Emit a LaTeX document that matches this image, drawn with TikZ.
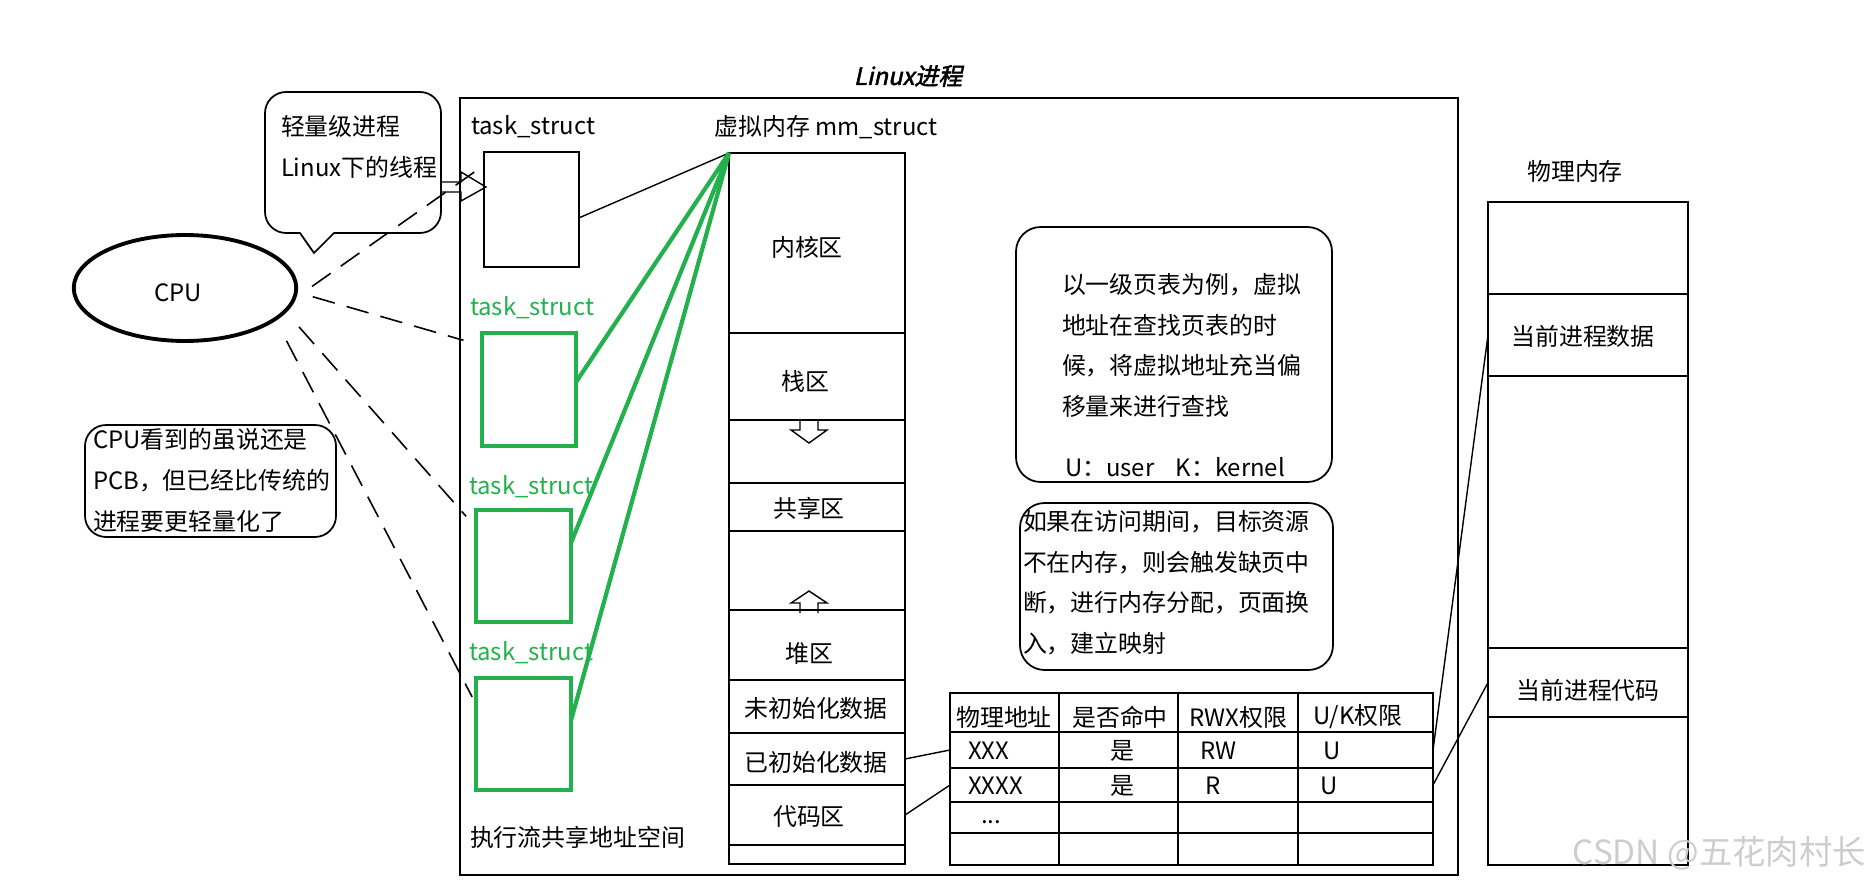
\documentclass[tikz,border=0pt]{standalone}
\usepackage{fontspec}
\setmainfont{Noto Sans CJK SC}
\newfontfamily\titlefont[FakeSlant=0.22,FakeBold=2]{Noto Sans CJK SC}
\usetikzlibrary{shapes.geometric, positioning, fit}
\definecolor{tsgreen}{RGB}{34,177,76}
\definecolor{markgray}{RGB}{205,205,205}

\begin{document}
\begin{tikzpicture}[
		x=0.02cm, y=-0.02cm,
		% police de base pour toutes les étiquettes
		every node/.style={font=\fontsize{13.6}{23.3}\selectfont, inner sep=0pt, outer sep=0pt},
		% cadres noirs simples
		frame/.style={draw, line width=1pt},
		% cadres verts des task_struct
		gframe/.style={draw=tsgreen, line width=2.4pt},
		% bulles arrondies
		note/.style={draw, line width=1pt, rounded corners=#1},
		note/.default=12pt,
		notetext/.style={align=left, anchor=north west},
		gtext/.style={text=tsgreen, anchor=west},
		cpuline/.style={line width=0.9pt, dash pattern=on 13pt off 7pt},
		memline/.style={line width=0.8pt},
		gline/.style={draw=tsgreen, line width=2.4pt},
		hollow/.style={line width=0.8pt, line join=miter}
		]
		\useasboundingbox (0,0) rectangle (1872,888);
		
		% --- PROCESSUS ---
		\node[frame, fit={(460,98)(1458,875)}] (proc) {};
		\node[font={\titlefont\fontsize{13.6}{16}\selectfont}] (title) at (908,76) {Linux进程};
		
		% --- CPU ---
		\node[draw, ellipse, line width=2.2pt, minimum width=4.45cm, minimum height=2.12cm,
			label={[shift={(-7,5)}]center:CPU}] (cpu) at (185,288) {};
		
		% --- TASK_STRUCT ---
		\node[anchor=west] (lbl0) at (471,127) {task\_struct};
		\node[frame, fit={(484,152)(579,267)}] (ts0) {};
		\node[gtext] (lbl1) at (470,308) {task\_struct};
		\node[gframe, fit={(482,333)(576,446)}] (ts1) {};
		\node[gtext] (lbl2) at (469,487) {task\_struct};
		\node[gframe, fit={(476,510)(571,622)}] (ts2) {};
		\node[gtext] (lbl3) at (469,653) {task\_struct};
		\node[gframe, fit={(476,678)(571,790)}] (ts3) {};
		\node[anchor=west] (share) at (470,837) {执行流共享地址空间};
		
		% --- MÉMOIRE VIRTUELLE ---
		\node (mmlbl) at (826,127) {虚拟内存 mm\_struct};
		\node[frame, fit={(729,153)(905,333)}, label={[shift={(-10,4)}]center:内核区}] (kern) {};
		\node[frame, fit={(729,333)(905,420)}, label={[shift={(-12,5)}]center:栈区}] (stack) {};
		\node[frame, fit={(729,420)(905,483)}] (free1) {};
		\node[frame, fit={(729,483)(905,531)}, label={[shift={(-8,1)}]center:共享区}] (shared) {};
		\node[frame, fit={(729,531)(905,610)}] (free2) {};
		\node[frame, fit={(729,610)(905,680)}, label={[shift={(-8,8)}]center:堆区}] (heap) {};
		\node[frame, fit={(729,680)(905,733)}, label={[shift={(-1,2)}]center:未初始化数据}] (bss) {};
		\node[frame, fit={(729,733)(905,785)}, label={[shift={(-1,3)}]center:已初始化数据}] (data) {};
		\node[frame, fit={(729,785)(905,845)}, label={[shift={(-8,2)}]center:代码区}] (code) {};
		\node[frame, fit={(729,845)(905,864)}] (rest) {};
		% flèches de croissance pile / tas
		\draw[hollow] (800,419) -- (800,430) -- (791,430) -- (809,443) -- (827,430) -- (818,430) -- (818,419);
		\draw[hollow] (800,613) -- (800,603) -- (791,603) -- (809,591) -- (827,603) -- (818,603) -- (818,613);
		
		% --- BULLES ---
		\draw[line width=1pt] (300,233) [sharp corners] -- (314,253) -- (334,233) [rounded corners=12pt] -- (441,233) -- (441,92) -- (265,92) -- (265,233) [sharp corners] -- cycle;
		\node[notetext] (bub1) at (281,115) {轻量级进程\\Linux下的线程};
		\draw[hollow] (441,182) -- (461,182) -- (461,172) -- (486,187) -- (461,201) -- (461,192) -- (441,192);
		
		\node[note=14pt, fit={(1016,227)(1332,482)}] (pt) {};
		\node[notetext] (pttext) at (1062,273) {以一级页表为例，虚拟\\地址在查找页表的时\\候，将虚拟地址充当偏\\移量来进行查找};
		\node[anchor=west] (uk) at (1065,467) {U：user\hspace{0.9em}K：kernel};
		
		\node[note=14pt, fit={(1020,503)(1333,670)}] (fault) {};
		\node[notetext] (faulttext) at (1023,510) {如果在访问期间，目标资源\\不在内存，则会触发缺页中\\断，进行内存分配，页面换\\入，建立映射};
		
		\node[note=12pt, fit={(85,425)(336,537)}] (pcb) {};
		\node[notetext] (pcbtext) at (93,428) {CPU看到的虽说还是\\PCB，但已经比传统的\\进程要更轻量化了};
		
		% --- TABLE DES PAGES ---
		\node[frame, fit={(950,693)(1433,732)}] (hdr) {};
		\node[frame, fit={(950,732)(1433,768)}] (row1) {};
		\node[frame, fit={(950,768)(1433,802)}] (row2) {};
		\node[frame, fit={(950,802)(1433,833)}] (row3) {};
		\node[frame, fit={(950,833)(1433,865)}] (row4) {};
		\foreach \x in {1059,1178,1298}
			\draw[line width=1pt] (\x,693) -- (\x,865);
		\node (h1) at (1004,717) {物理地址};
		\node (h2) at (1120,717) {是否命中};
		\node (h3) at (1238,717) {RWX权限};
		\node (h4) at (1358,717) {U/K权限};
		\node[anchor=west] (a1) at (968,751) {XXX};
		\node (b1) at (1122,751) {是};
		\node[anchor=west] (c1) at (1200,751) {RW};
		\node[anchor=west] (d1) at (1323,751) {U};
		\node[anchor=west] (a2) at (968,786) {XXXX};
		\node (b2) at (1122,786) {是};
		\node[anchor=west] (c2) at (1205,786) {R};
		\node[anchor=west] (d2) at (1320,786) {U};
		\node[anchor=west] (a3) at (981,822) {...};
		
		% --- MÉMOIRE PHYSIQUE ---
		\node (physlbl) at (1575,171) {物理内存};
		\node[frame, fit={(1488,202)(1688,294)}] (p0) {};
		\node[frame, fit={(1488,294)(1688,376)}, label={[shift={(-5,1)}]center:当前进程数据}] (pdata) {};
		\node[frame, fit={(1488,376)(1688,648)}] (p1) {};
		\node[frame, fit={(1488,648)(1688,717)}, label={[shift={(0,8)}]center:当前进程代码}] (pcode) {};
		\node[frame, fit={(1488,717)(1688,865)}] (p2) {};
		
		% --- LIENS ---
		\draw[cpuline, shorten <=12.8pt, shorten >=4pt] (cpu.-6) -- (ts0.137);
		\draw[cpuline, shorten <=10pt, shorten >=11pt] (cpu.-2) -- (ts1.137);
		\draw[cpuline, shorten <=12pt, shorten >=8.5pt] (cpu.-13) -- (ts2.141);
		\draw[cpuline, shorten <=14pt, shorten >=4.8pt] (cpu.-19) -- (ts3.148);
		
		\draw[memline] (ts0.-10) -- (kern.north west);
		\draw[gline] (ts1.9) -- (kern.north west);
		\draw[gline] (ts2.26) -- (kern.north west);
		\draw[gline] (ts3.16) -- (kern.north west);
		
		\draw[memline] (data.east) -- (row1.west);
		\draw[memline] (code.east) -- (row2.west);
		\draw[memline] (row1.east) -- (pdata.west);
		\draw[memline] (row2.east) -- (pcode.west);
		
		\node[text=markgray, font=\fontsize{19}{22}\selectfont, anchor=east] (mark) at (1866,853) {CSDN @五花肉村长};
		
	\end{tikzpicture}
\end{document}
